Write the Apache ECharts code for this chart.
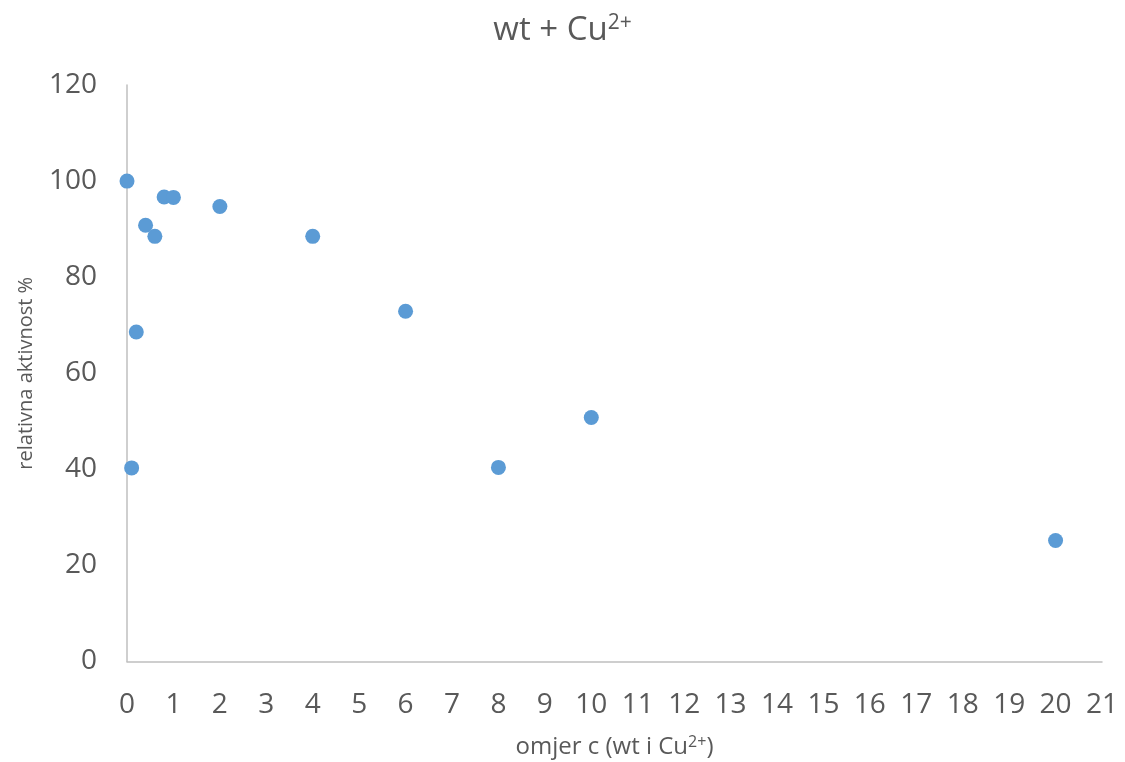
<!DOCTYPE html>
<html><head><meta charset="utf-8">
<script src="https://cdn.jsdelivr.net/npm/echarts@6/dist/echarts.min.js"></script>
<style>html,body{margin:0;padding:0;background:#fff}#c{width:1125px;height:762px}</style>
</head><body><div id="c"></div>
<script>
const xValues = [0, 0.1, 0.2, 0.4, 0.6, 0.8, 1, 2, 4, 6, 8, 10, 20];
const yValues = [100, 40.3, 68.6, 90.8, 88.5, 96.7, 96.6, 94.7, 88.5, 72.9, 40.4, 50.8, 25.2];
const xTicks = {min: 0, max: 21, interval: 1};
const yTicks = {min: 0, max: 120, interval: 20};

const FONT = '"Open Sans", "Liberation Sans", sans-serif';
const GREY = '#595959';
const chart = echarts.init(document.getElementById('c'), null, {renderer: 'canvas'});
chart.setOption({
  animation: false,
  backgroundColor: '#fff',
  title: {
    text: '{m|wt + Cu}{s|2+}',
    left: 'center', top: 8,
    textStyle: {
      fontFamily: FONT, fontSize: 33, color: GREY, fontWeight: 'normal',
      rich: {
        m: {fontFamily: FONT, fontSize: 33, color: GREY, fontWeight: 'normal'},
        s: {fontFamily: FONT, fontSize: 21, color: GREY, fontWeight: 'normal', verticalAlign: 'top', padding: [0, 0, 14, 0]}
      }
    }
  },
  grid: {left: 127, right: 23, top: 85, bottom: 100.5, containLabel: false, outerBoundsMode: 'none'},
  xAxis: {
    type: 'value', min: xTicks.min, max: xTicks.max, interval: xTicks.interval,
    name: '{m|omjer c (wt i Cu}{s|2+}{m|)}',
    nameLocation: 'middle', nameGap: 73,
    nameTextStyle: {
      fontFamily: FONT, fontSize: 24, color: GREY,
      rich: {
        m: {fontFamily: FONT, fontSize: 24, color: GREY},
        s: {fontFamily: FONT, fontSize: 16, color: GREY, verticalAlign: 'top', padding: [0, 0, 9, 0]}
      }
    },
    axisLine: {show: true, lineStyle: {color: '#bfbfbf', width: 1.5}},
    axisTick: {show: false},
    splitLine: {show: false},
    axisLabel: {fontFamily: FONT, fontSize: 28, color: GREY, margin: 30}
  },
  yAxis: {
    type: 'value', min: yTicks.min, max: yTicks.max, interval: yTicks.interval,
    name: 'relativna aktivnost %',
    nameLocation: 'middle', nameGap: 91, nameRotate: 90,
    nameTextStyle: {fontFamily: FONT, fontSize: 20, color: GREY},
    axisLine: {show: true, lineStyle: {color: '#bfbfbf', width: 1.5}},
    axisTick: {show: false},
    splitLine: {show: false},
    axisLabel: {fontFamily: FONT, fontSize: 28, color: GREY, margin: 30}
  },
  series: [{
    type: 'scatter',
    data: xValues.map((x, i) => [x, yValues[i]]),
    symbol: 'circle', symbolSize: 15,
    itemStyle: {color: '#5b9bd5', opacity: 1}
  }]
});
</script></body></html>
